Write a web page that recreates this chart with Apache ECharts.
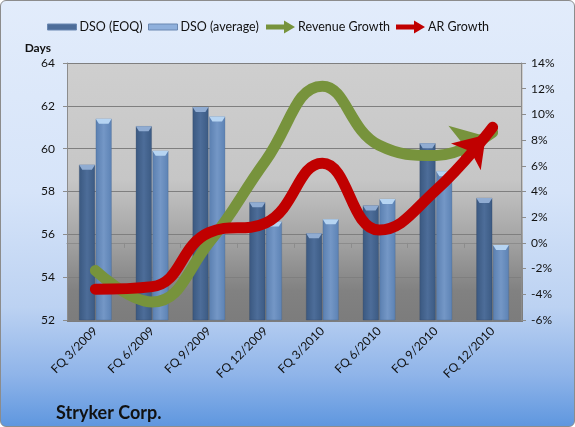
<!DOCTYPE html>
<html>
<head>
<meta charset="utf-8">
<script src="https://cdn.jsdelivr.net/npm/echarts@6/dist/echarts.min.js"></script>
<style>
  html, body { margin: 0; padding: 0; }
  #main {
    width: 573px; height: 425px;
    border: 1px solid #8c8c8c; border-radius: 6px;
    background: linear-gradient(to bottom, #e2ecfb 0%, #d6e4f9 45%, #bcd2f2 72%, #8fb4e9 88%, #5f97df 100%);
  }
</style>
</head>
<body>
<div id="main"></div>
<script>
// quarters
const quarters = ['FQ 3/2009', 'FQ 6/2009', 'FQ 9/2009', 'FQ 12/2009', 'FQ 3/2010', 'FQ 6/2010', 'FQ 9/2010', 'FQ 12/2010'];
// days
const dsoEoq = [59.25, 61.05, 61.95, 57.5, 56.05, 57.35, 60.25, 57.7];
const dsoAvg = [61.4, 59.9, 61.5, 56.6, 56.7, 57.65, 58.95, 55.5];
// percent
const revenueGrowth = [-2.15, -4.6, 0.0, 6.4, 12.2, 7.6, 6.8, 8.6];
const arGrowth = [-3.6, -3.4, 0.8, 1.55, 6.2, 1.0, 4.1, 9.0];

const font = 'Lato, "Liberation Sans", sans-serif';

// arrow head on the last point, tip placed a little past the data point
function withArrow(values, angle) {
  const rad = angle * Math.PI / 180;
  const dx = Math.sin(-rad), dy = -Math.cos(-rad);
  const back = 10;
  return values.map((v, i) => {
    if (i < values.length - 1) return { value: v, symbol: 'none' };
    return {
      value: v,
      symbol: 'arrow',
      symbolSize: [30, 30],
      symbolRotate: angle,
      symbolOffset: [-dx * back, -dy * back]
    };
  });
}

function legendAt(left, name, icon, h, style) {
  return {
    left: left, top: 26 - 8,
    padding: 0,
    height: 16,
    itemWidth: 29, itemHeight: h,
    textStyle: { fontFamily: font, fontSize: 12.5, color: '#111', padding: [0, 0, 0, -2], lineHeight: 16 },
    data: [{ name: name, icon: icon, itemStyle: style }]
  };
}

const darkBar = new echarts.graphic.LinearGradient(0, 0, 1, 0, [
  { offset: 0, color: '#3a5880' }, { offset: 0.5, color: '#4d6d99' }, { offset: 1, color: '#3b5a83' }
]);
const lightBar = new echarts.graphic.LinearGradient(0, 0, 1, 0, [
  { offset: 0, color: '#5a7fb0' }, { offset: 0.5, color: '#7497c6' }, { offset: 1, color: '#5c82b4' }
]);
const capPath = 'path://M0,0 L20,0 L16,5 L4,5 Z';
const arrowIcon = 'path://M0,4 L18,4 L18,0 L29,6.5 L18,13 L18,9 L0,9 Z';

const chart = echarts.init(document.getElementById('main'), null, { renderer: 'canvas' });
chart.setOption({
  backgroundColor: 'transparent',
  animation: false,
  textStyle: { fontFamily: font },
  title: {
    text: 'Stryker Corp.',
    left: 50, top: 398,
    textStyle: { fontFamily: font, fontSize: 18, fontWeight: 'bold', color: '#111' }
  },
  legend: [
    legendAt(46, 'DSO (EOQ)', 'rect', 6, { color: '#4d6d99', borderColor: '#6a88b2', borderWidth: 1 }),
    legendAt(147, 'DSO (average)', 'rect', 6, { color: '#8fb0dc', borderColor: '#6a88b2', borderWidth: 1 }),
    legendAt(265, 'Revenue Growth', arrowIcon, 13, { color: '#77933c' }),
    legendAt(395, 'AR Growth', arrowIcon, 13, { color: '#c00000' })
  ],
  grid: { left: 66, right: 53, top: 62, bottom: 106 },
  xAxis: {
    type: 'category',
    data: quarters,
    axisLine: { lineStyle: { color: '#8c8c8c' } },
    axisTick: { show: true, length: 5, lineStyle: { color: '#8c8c8c' } },
    axisLabel: { interval: 0, rotate: 45, fontSize: 12, color: '#111', margin: 9, fontFamily: font }
  },
  yAxis: [{
    type: 'value',
    min: 52, max: 64, interval: 2,
    name: 'Days',
    nameGap: 9,
    nameTextStyle: { fontFamily: font, fontWeight: 'bold', fontSize: 12, color: '#111', align: 'right', padding: [0, 16, 0, 0] },
    axisLine: { show: true, lineStyle: { color: '#8c8c8c' } },
    axisTick: { show: true, length: 4, lineStyle: { color: '#8c8c8c' } },
    axisLabel: { fontSize: 12, color: '#111', margin: 12, fontFamily: font },
    splitLine: { lineStyle: { color: '#7f7f7f', width: 1 } },
    splitArea: { show: false }
  }, {
    type: 'value',
    min: -6, max: 14, interval: 2,
    position: 'right',
    axisLine: { show: true, lineStyle: { color: '#8c8c8c' } },
    axisTick: { show: true, length: 5, lineStyle: { color: '#8c8c8c' } },
    axisLabel: { formatter: '{value}%', fontSize: 12, color: '#111', margin: 10, fontFamily: font },
    splitLine: { show: false }
  }],
  graphic: [{
    type: 'rect',
    z: -1,
    shape: { x: 66, y: 62, width: 456, height: 259 },
    style: {
      fill: new echarts.graphic.LinearGradient(0, 0, 0, 1, [
        { offset: 0, color: '#cfcfcf' },
        { offset: 0.45, color: '#c6c6c6' },
        { offset: 0.68, color: '#a4a4a4' },
        { offset: 0.88, color: '#818181' },
        { offset: 1, color: '#7c7c7c' }
      ])
    }
  }],
  series: [{
    name: 'DSO (EOQ)',
    type: 'bar',
    data: dsoEoq,
    barWidth: 16,
    barGap: '4%',
    itemStyle: { color: darkBar, borderColor: 'rgba(40,60,90,0.5)', borderWidth: 0.5 },
    z: 2
  }, {
    name: 'DSO (average)',
    type: 'bar',
    data: dsoAvg,
    barWidth: 16,
    barGap: '4%',
    itemStyle: { color: lightBar, borderColor: 'rgba(60,90,130,0.5)', borderWidth: 0.5 },
    z: 2
  }, {
    name: 'capEoq',
    type: 'pictorialBar',
    data: dsoEoq,
    barWidth: 16,
    barGap: '4%',
    symbol: capPath,
    symbolSize: [16, 5],
    symbolPosition: 'end',
    symbolRepeat: false,
    itemStyle: { color: '#90acd2' },
    z: 3
  }, {
    name: 'capAvg',
    type: 'pictorialBar',
    data: dsoAvg,
    barWidth: 16,
    barGap: '4%',
    symbol: capPath,
    symbolSize: [16, 5],
    symbolPosition: 'end',
    symbolRepeat: false,
    itemStyle: { color: '#b6d4f2' },
    z: 3
  }, {
    name: 'Revenue Growth',
    type: 'line',
    yAxisIndex: 1,
    smooth: 0.45,
    data: withArrow(revenueGrowth, -72),
    showSymbol: true,
    color: '#77933c',
    itemStyle: { color: '#77933c' },
    lineStyle: { color: '#77933c', width: 11, cap: 'round' },
    z: 4
  }, {
    name: 'AR Growth',
    type: 'line',
    yAxisIndex: 1,
    smooth: 0.45,
    data: withArrow(arGrowth, -42),
    showSymbol: true,
    color: '#c00000',
    itemStyle: { color: '#c00000' },
    lineStyle: { color: '#c00000', width: 11, cap: 'round' },
    z: 5
  }]
});
</script>
</body>
</html>
